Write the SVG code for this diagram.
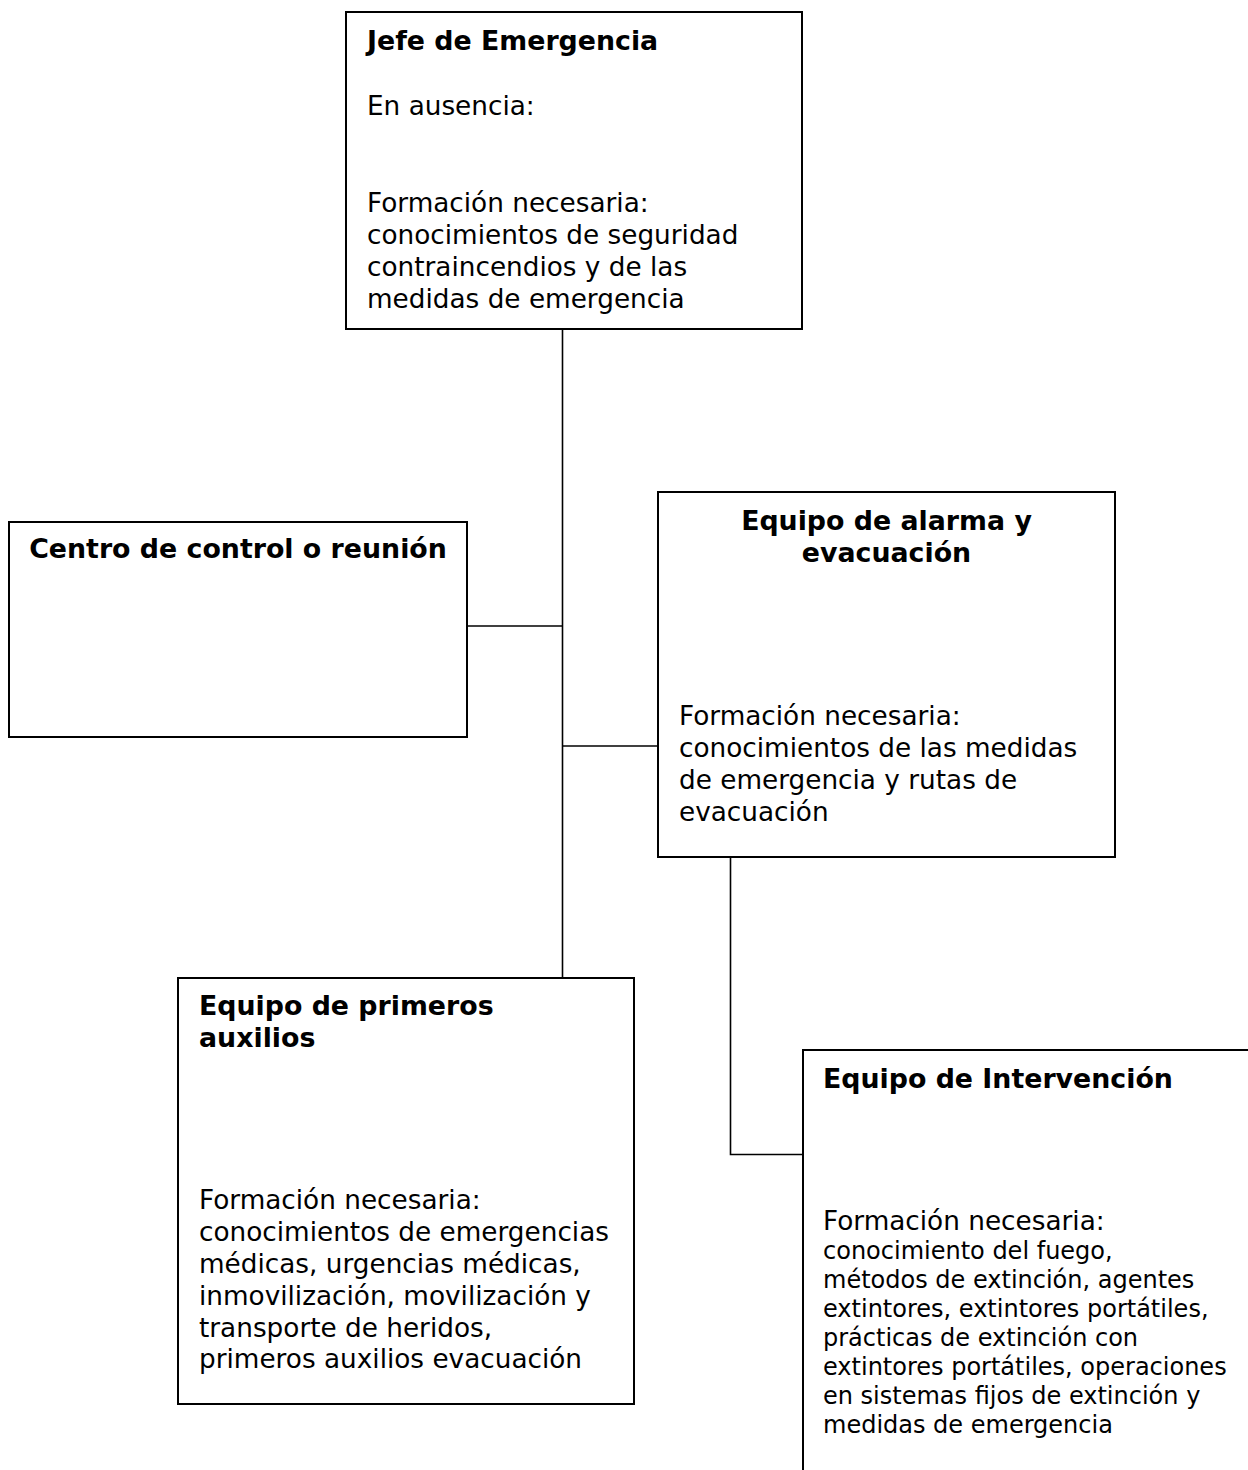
<svg xmlns="http://www.w3.org/2000/svg" width="1248" height="1470" viewBox="0 0 1248 1470">
<style>
.box{fill:#fff;stroke:#000;stroke-width:2}
.con{fill:none;stroke:#000;stroke-width:1.6}
text{font-family:"DejaVu Sans",Verdana,sans-serif;fill:#000}
.t{font-weight:bold;font-size:26.8px}
.b{font-size:26.3px}
.s{font-size:24px}
.c{text-anchor:middle}
</style>
<rect width="1248" height="1470" fill="#fff"/>
<g id="connectors">
<line class="con" x1="562.5" y1="329" x2="562.5" y2="978"/>
<line class="con" x1="467" y1="626" x2="562.5" y2="626"/>
<line class="con" x1="562.5" y1="746" x2="658" y2="746"/>
<polyline class="con" points="730.5,857 730.5,1154.5 803,1154.5"/>
</g>
<g id="jefe">
<rect class="box" x="346" y="12" width="456" height="317"/>
<text class="t" x="367" y="50">Jefe de Emergencia</text>
<text class="b" x="367" y="115">En ausencia:</text>
<text class="b" x="367" y="212">Formación necesaria:</text>
<text class="b" x="367" y="244">conocimientos de seguridad</text>
<text class="b" x="367" y="276">contraincendios y de las</text>
<text class="b" x="367" y="308">medidas de emergencia</text>
</g>
<g id="centro">
<rect class="box" x="9" y="522" width="458" height="215"/>
<text class="t c" x="238" y="558">Centro de control o reunión</text>
</g>
<g id="alarma">
<rect class="box" x="658" y="492" width="457" height="365"/>
<text class="t c" x="886.5" y="530">Equipo de alarma y</text>
<text class="t c" x="886.5" y="562">evacuación</text>
<text class="b" x="679" y="725">Formación necesaria:</text>
<text class="b" x="679" y="757">conocimientos de las medidas</text>
<text class="b" x="679" y="789">de emergencia y rutas de</text>
<text class="b" x="679" y="821">evacuación</text>
</g>
<g id="primeros">
<rect class="box" x="178" y="978" width="456" height="426"/>
<text class="t" x="199" y="1015">Equipo de primeros</text>
<text class="t" x="199" y="1047">auxilios</text>
<text class="b" x="199" y="1209">Formación necesaria:</text>
<text class="b" x="199" y="1241">conocimientos de emergencias</text>
<text class="b" x="199" y="1273">médicas, urgencias médicas,</text>
<text class="b" x="199" y="1305">inmovilización, movilización y</text>
<text class="b" x="199" y="1337">transporte de heridos,</text>
<text class="b" x="199" y="1368">primeros auxilios evacuación</text>
</g>
<g id="intervencion">
<rect class="box" x="803" y="1050" width="500" height="500"/>
<text class="t" x="823" y="1088">Equipo de Intervención</text>
<text class="b" x="823" y="1230">Formación necesaria:</text>
<text class="s" x="823" y="1259">conocimiento del fuego,</text>
<text class="s" x="823" y="1288">métodos de extinción, agentes</text>
<text class="s" x="823" y="1317">extintores, extintores portátiles,</text>
<text class="s" x="823" y="1346">prácticas de extinción con</text>
<text class="s" x="823" y="1375">extintores portátiles, operaciones</text>
<text class="s" x="823" y="1404">en sistemas fijos de extinción y</text>
<text class="s" x="823" y="1433">medidas de emergencia</text>
</g>
</svg>
